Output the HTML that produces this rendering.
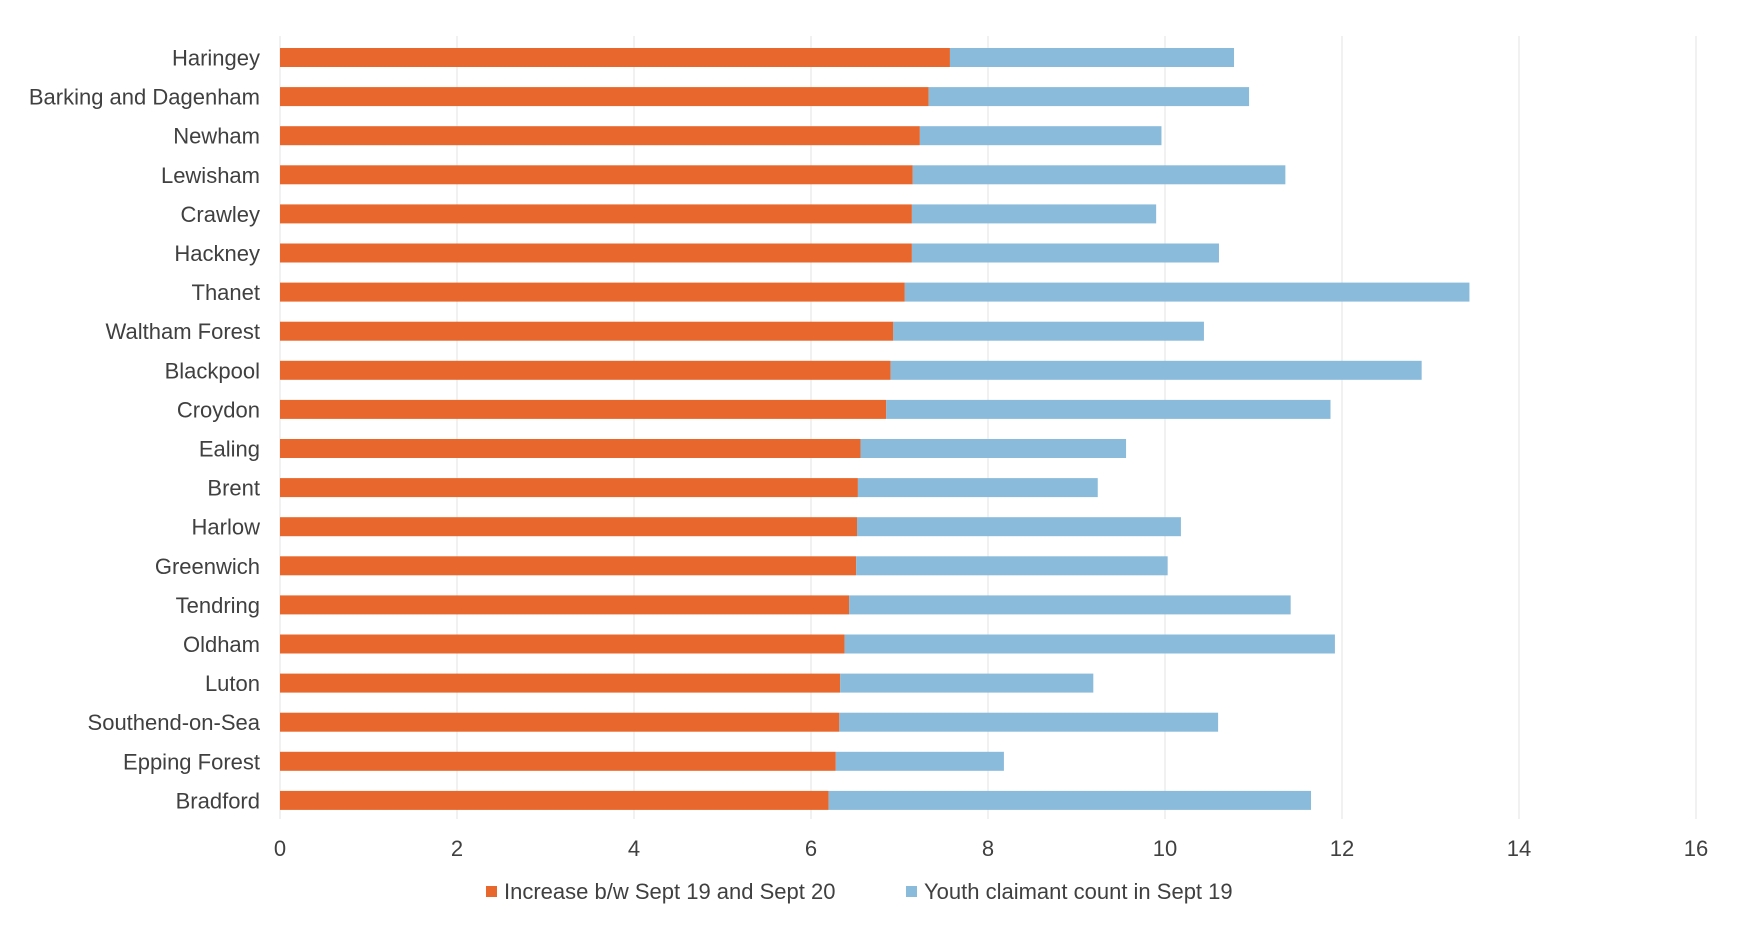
<!DOCTYPE html>
<html><head><meta charset="utf-8"><style>
html,body{margin:0;padding:0;background:#fff;}
svg{display:block;font-family:"Liberation Sans",Arial,sans-serif;}
</style></head><body>
<svg id="chart" width="1754" height="933"></svg>
<script>
const categories=["Haringey","Barking and Dagenham","Newham","Lewisham","Crawley","Hackney","Thanet","Waltham Forest","Blackpool","Croydon","Ealing","Brent","Harlow","Greenwich","Tendring","Oldham","Luton","Southend-on-Sea","Epping Forest","Bradford"];
const increaseValues=[7.57,7.33,7.23,7.15,7.14,7.14,7.06,6.93,6.90,6.85,6.56,6.53,6.52,6.51,6.43,6.38,6.33,6.32,6.28,6.20];
const claimantValues=[3.21,3.62,2.73,4.21,2.76,3.47,6.38,3.51,6.00,5.02,3.00,2.71,3.66,3.52,4.99,5.54,2.86,4.28,1.90,5.45];
const tickLabels=[0,2,4,6,8,10,12,14,16];
const seriesNames=["Increase b/w Sept 19 and Sept 20","Youth claimant count in Sept 19"];
const colors=["#e8672c","#8abbdb"];
const NS="http://www.w3.org/2000/svg";
const svg=document.getElementById("chart");
const x0=280,x1=1696,xMax=16,yTop=36,yBot=819,firstY=57.5,step=39.1,barH=19;
const xs=v=>x0+(v/xMax)*(x1-x0);
const ys=i=>firstY+i*step;
function mk(t,a){const e=document.createElementNS(NS,t);for(const k in a)e.setAttribute(k,a[k]);svg.appendChild(e);return e;}
tickLabels.forEach(t=>{
  const g=mk("line",{x1:xs(t),x2:xs(t),y1:yTop,y2:yBot,stroke:"#e3e3e3","stroke-width":1});
  
  
  const l=mk("text",{x:xs(t),y:856,"text-anchor":"middle","font-size":22,fill:"#404040"});
  l.textContent=t;
  
  
});
categories.forEach((c,i)=>{
  const y=ys(i);
  const a=mk("rect",{x:xs(0),y:y-barH/2,width:xs(increaseValues[i])-xs(0),height:barH,fill:colors[0]});
  
  
  const b=mk("rect",{x:xs(increaseValues[i]),y:y-barH/2,width:xs(increaseValues[i]+claimantValues[i])-xs(increaseValues[i]),height:barH,fill:colors[1]});
  
  
  const t=mk("text",{x:260,y:y+8,"text-anchor":"end","font-size":22,fill:"#404040"});
  t.textContent=c;
  
  
});
const lx=[486,906];
seriesNames.forEach((n,i)=>{
  const s=mk("rect",{x:lx[i],y:886,width:11,height:11,fill:colors[i]});
  
  
  const t=mk("text",{x:lx[i]+18,y:899,"font-size":22,fill:"#404040"});
  t.textContent=n;
  
  
});
</script>
</body></html>
